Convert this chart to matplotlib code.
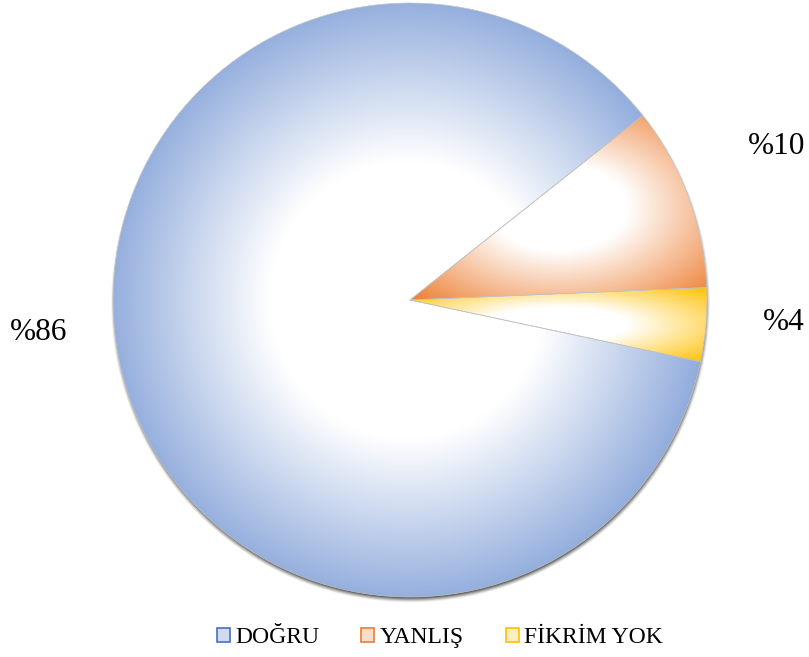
import numpy as np
import matplotlib
matplotlib.use("Agg")
import matplotlib.pyplot as plt
from matplotlib.patches import Patch

categories = ["DOĞRU", "YANLIŞ", "FİKRİM YOK"]
values = [86, 10, 4]
colors = ["#4472C4", "#ED7D31", "#FFC000"]
label_pos = [(10, 325), (748, 511), (763, 334)]  # left x, centre y (data/pixel coords)

W, H = 809, 657
cx, cy, R = 410, 357, 297

plt.rcParams["font.family"] = ["Liberation Serif", "DejaVu Serif"]

fig = plt.figure(figsize=(W / 100, H / 100), dpi=100)
ax = fig.add_axes([0, 0, 1, 1])

# soft shadow under the pie (slightly lower)
sx, sy = cx + 0.5, cy - 3
gx = np.linspace(cx - R - 20, cx + R + 20, 900)
gy = np.linspace(cy - R - 20, cy + R + 20, 900)
X, Y = np.meshgrid(gx, gy)
d = np.hypot(X - sx, Y - sy)
sh = np.zeros(X.shape + (4,))
sh[..., :3] = 0.15
sh[..., 3] = 0.75 * np.clip((R + 3 - d) / 5, 0, 1) ** 1.3
ax.imshow(sh, extent=(gx[0], gx[-1], gy[0], gy[-1]), origin="lower", zorder=0,
          interpolation="bilinear")

wedges, _ = ax.pie(values, colors=colors, startangle=-12, counterclock=False,
                   center=(cx, cy), radius=R,
                   wedgeprops=dict(linewidth=0.5, edgecolor="#c4c4c4"))

def wedge_bbox(w):
    t1, t2 = w.theta1, w.theta2
    angs = [t1, t2] + [a for a in range(-360, 721, 90) if t1 <= a <= t2]
    xs = [w.center[0]] + [w.center[0] + w.r * np.cos(np.radians(a)) for a in angs]
    ys = [w.center[1]] + [w.center[1] + w.r * np.sin(np.radians(a)) for a in angs]
    return min(xs), max(xs), min(ys), max(ys)

d0 = 0.33
for w, c in zip(wedges, colors):
    rgb = np.array(matplotlib.colors.to_rgb(c))
    x0, x1, y0, y1 = wedge_bbox(w)
    mx, my = (x0 + x1) / 2, (y0 + y1) / 2
    hw, hh = max((x1 - x0) / 2, 1), max((y1 - y0) / 2, 1)
    gx = np.linspace(x0, x1, 500)
    gy = np.linspace(y0, y1, 500)
    X, Y = np.meshgrid(gx, gy)
    dist = np.hypot((X - mx) / hw, (Y - my) / hh) / np.sqrt(2)
    t = np.clip((dist - d0) / (1 - d0), 0, 1)[..., None]
    img = (1 - t) * 1.0 + t * rgb
    im = ax.imshow(img, extent=(x0, x1, y0, y1), origin="lower", zorder=1,
                   interpolation="bilinear")
    im.set_clip_path(w)
    w.set_facecolor("none")
    w.set_zorder(2)

for v, (lx, ly) in zip(values, label_pos):
    ax.text(lx, ly, f"%{v}", fontsize=22.5, ha="left", va="center", color="black")

ax.set_xlim(0, W)
ax.set_ylim(0, H)
ax.set_aspect("auto")
ax.axis("off")

handles = [Patch(facecolor=matplotlib.colors.to_rgba(c, 0.25), edgecolor=c, linewidth=1.2)
           for c in colors]
fig.legend(handles, categories, loc="center", bbox_to_anchor=(0.544, 0.029), ncol=3,
           frameon=False, fontsize=17, handlelength=0.55, handleheight=0.55,
           handletextpad=0.25, columnspacing=1.75)

fig.savefig("out.png", dpi=100)
